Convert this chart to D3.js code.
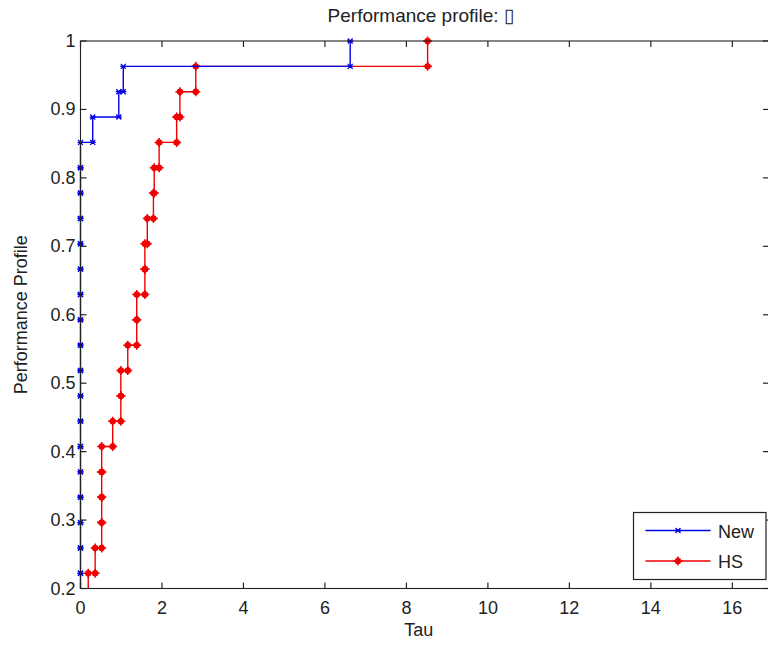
<!DOCTYPE html>
<html>
<head>
<meta charset="utf-8">
<script src="https://cdn.jsdelivr.net/npm/d3@7"></script>
<style>
  body { margin: 0; background: #fff; }
  svg { display: block; }
  text { font-family: "Liberation Sans", Arial, sans-serif; fill: #222; }
</style>
</head>
<body>
<div id="chart"></div>
<script>
// number of problems in the profile (each step is 1/27)
var nProb = 27;

// sorted tau values for each solver, one per problem
var tauNew = [0, 0, 0, 0, 0, 0, 0, 0, 0, 0, 0, 0, 0, 0, 0, 0, 0, 0, 0, 0, 0, 0, 0,
              0.30, 0.94, 1.05, 6.62];
var tauHS = [0, 0, 0, 0, 0, 0.19, 0.36, 0.52, 0.52, 0.52, 0.52, 0.79, 0.99, 0.99,
             1.16, 1.38, 1.38, 1.58, 1.58, 1.64, 1.79, 1.81, 1.93, 2.36, 2.44, 2.83, 8.52];

var seriesNames = ["New", "HS"];
var xTicks = [0, 2, 4, 6, 8, 10, 12, 14, 16];
var yTicks = [0.2, 0.3, 0.4, 0.5, 0.6, 0.7, 0.8, 0.9, 1];

var titleText = "Performance profile: \u25AF";
var xLabel = "Tau";
var yLabel = "Performance Profile";

var W = 768, H = 649;
var margin = {top: 41, right: -1, bottom: 60.5, left: 80.5};
var pLeft = margin.left, pRight = W - margin.right,
    pTop = margin.top, pBottom = H - margin.bottom;

var svg = d3.select("#chart").append("svg").attr("width", W).attr("height", H);

var x = d3.scaleLinear().domain([0, 16.9]).range([pLeft, pRight]);
var y = d3.scaleLinear().domain([0.2, 1]).range([pBottom, pTop]);

// clip at the bottom axis only; lines on the left/top edges stay whole
svg.append("defs").append("clipPath").attr("id", "clip")
    .append("rect").attr("x", pLeft - 5).attr("y", pTop - 5)
    .attr("width", pRight - pLeft + 5).attr("height", pBottom - pTop + 5);

// matlab-style stairs: corners list, markers at every corner
function stairPoints(taus) {
    var pts = [];
    for (var i = 0; i < taus.length; i++) {
        var yv = (i + 1) / nProb;
        if (i > 0) pts.push([taus[i], i / nProb]);
        pts.push([taus[i], yv]);
    }
    return pts;
}

var line = d3.line()
    .x(function (d) { return x(d[0]); })
    .y(function (d) { return y(d[1]); });

var plot = svg.append("g").attr("clip-path", "url(#clip)");

function drawSeries(taus, color, markerType) {
    var pts = stairPoints(taus);
    plot.append("path").datum(pts)
        .attr("d", line)
        .attr("fill", "none")
        .attr("stroke", color)
        .attr("stroke-width", 1.4);
    var m = plot.append("g").selectAll("g").data(pts).enter().append("g")
        .attr("transform", function (d) { return "translate(" + x(d[0]) + "," + y(d[1]) + ")"; });
    drawMarker(m, color, markerType);
}

function drawMarker(sel, color, markerType) {
    if (markerType == "x") {
        sel.append("path").attr("d", "M-2.5,-2.5L2.5,2.5M-2.5,2.5L2.5,-2.5M-3,0L3,0")
            .attr("stroke", color).attr("stroke-width", 1.3).attr("fill", "none");
    } else {
        sel.append("circle").attr("r", 3.2).attr("fill", color);
        sel.append("path").attr("d", "M-4.5,0L4.5,0M0,-4.5L0,4.5")
            .attr("stroke", color).attr("stroke-width", 1.5);
    }
}

drawSeries(tauHS, "#f00000", "dot");
drawSeries(tauNew, "#0000e8", "x");

// axes box with inward ticks on all four sides
var axisColor = "#222";
var tickLen = 6;
var axes = svg.append("g");
axes.append("rect").attr("x", pLeft).attr("y", pTop)
    .attr("width", pRight - pLeft).attr("height", pBottom - pTop)
    .attr("fill", "none").attr("stroke", axisColor).attr("stroke-width", 1.1);

xTicks.forEach(function (t) {
    axes.append("line").attr("x1", x(t)).attr("x2", x(t))
        .attr("y1", pBottom).attr("y2", pBottom - tickLen)
        .attr("stroke", axisColor).attr("stroke-width", 1.2);
    axes.append("line").attr("x1", x(t)).attr("x2", x(t))
        .attr("y1", pTop).attr("y2", pTop + tickLen)
        .attr("stroke", axisColor).attr("stroke-width", 1.2);
    axes.append("text").attr("x", x(t)).attr("y", pBottom + 25)
        .attr("text-anchor", "middle").attr("font-size", "18px")
        .text(t);
});

yTicks.forEach(function (t) {
    axes.append("line").attr("x1", pLeft).attr("x2", pLeft + tickLen)
        .attr("y1", y(t)).attr("y2", y(t))
        .attr("stroke", axisColor).attr("stroke-width", 1.2);
    axes.append("line").attr("x1", pRight).attr("x2", pRight - tickLen)
        .attr("y1", y(t)).attr("y2", y(t))
        .attr("stroke", axisColor).attr("stroke-width", 1.2);
    axes.append("text").attr("x", pLeft - 5).attr("y", y(t) + 6)
        .attr("text-anchor", "end").attr("font-size", "18px")
        .text(t);
});

// labels
svg.append("text").attr("x", (pLeft + pRight) / 2 - 4).attr("y", 22)
    .attr("text-anchor", "middle").attr("font-size", "19px").text(titleText);
svg.append("text").attr("x", (pLeft + pRight) / 2 - 6).attr("y", 636)
    .attr("text-anchor", "middle").attr("font-size", "18px").text(xLabel);
svg.append("text").attr("transform", "translate(27," + ((pTop + pBottom) / 2) + ") rotate(-90)")
    .attr("text-anchor", "middle").attr("font-size", "18px").text(yLabel);

// legend
var legend = svg.append("g").attr("transform", "translate(633.5,512.5)");
legend.append("rect").attr("width", 132.5).attr("height", 67)
    .attr("fill", "#fff").attr("stroke", axisColor).attr("stroke-width", 1.2);
var colors = ["#0000e8", "#f00000"];
var types = ["x", "dot"];
seriesNames.forEach(function (name, i) {
    var ly = 18 + i * 30.5;
    legend.append("line").attr("x1", 12).attr("x2", 77)
        .attr("y1", ly).attr("y2", ly)
        .attr("stroke", colors[i]).attr("stroke-width", 1.4);
    var m = legend.append("g").attr("transform", "translate(44.5," + ly + ")");
    drawMarker(m, colors[i], types[i]);
    legend.append("text").attr("x", 84.5).attr("y", ly + 7)
        .attr("font-size", "18px").text(name);
});
</script>
</body>
</html>
